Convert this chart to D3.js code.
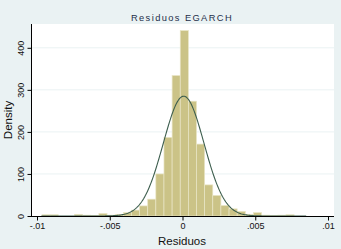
<!DOCTYPE html>
<html><head><meta charset="utf-8">
<script src="https://cdn.jsdelivr.net/npm/d3@7"></script>
<style>
html,body{margin:0;padding:0;background:#eaf2f3;}
svg{display:block;font-family:"Liberation Sans",Arial,sans-serif;}
</style></head>
<body>
<div id="chart"></div>
<script>
// Histogram of EGARCH residuals (density scale)
const binStart = -0.009658;
const binWidth = 0.000559;
const densities = [3,3,0,0,4,2,1,6,2,4,8,14,24,40,100,187,334,441,273,171,74,49,25,17,11,4,8,2,1,2,3,0];
// Fitted normal curve parameters
const normalMean = 0.00008;
const normalSd = 0.0014;
const curveRange = [-0.0097, 0.0085];
const xTicks = [-0.01, -0.005, 0, 0.005, 0.01];
const xTickLabels = ["-.01", "-.005", "0", ".005", ".01"];
const yTicks = [0, 100, 200, 300, 400];
const yTickLabels = ["0", "100", "200", "300", "400"];
const titleText = "Residuos EGARCH";
const xTitle = "Residuos";
const yTitle = "Density";

const W = 341, H = 249;
const svg = d3.select("#chart").append("svg").attr("width", W).attr("height", H);
svg.append("rect").attr("width", W).attr("height", H).attr("fill", "#eaf2f3");

const plot = {left: 32, right: 334, top: 24, bottom: 216};
svg.append("rect").attr("x", plot.left).attr("y", plot.top)
  .attr("width", plot.right - plot.left).attr("height", plot.bottom - plot.top)
  .attr("fill", "#ffffff");

const x = d3.scaleLinear().domain([-0.01, 0.01]).range([37, 328]);
const y = d3.scaleLinear().domain([0, 400]).range([216, 47.8]);

// grid
svg.append("g").selectAll("line").data(yTicks.filter(d => d > 0)).join("line")
  .attr("x1", plot.left).attr("x2", plot.right)
  .attr("y1", d => y(d)).attr("y2", d => y(d))
  .attr("stroke", "#eaf2f3").attr("stroke-width", 1);

// bars
const bins = densities.map((d, i) => ({x0: binStart + i * binWidth, x1: binStart + (i + 1) * binWidth, v: d}));
svg.append("g").selectAll("rect").data(bins.filter(b => b.v > 0)).join("rect")
  .attr("x", b => x(b.x0)).attr("width", b => x(b.x1) - x(b.x0))
  .attr("y", b => y(b.v)).attr("height", b => y(0) - y(b.v))
  .attr("fill", "#cbc387").attr("stroke", "#e9e5c6").attr("stroke-width", 0.7);

// normal curve
const pdf = v => Math.exp(-0.5 * Math.pow((v - normalMean) / normalSd, 2)) / (normalSd * Math.sqrt(2 * Math.PI));
const pts = d3.range(0, 301).map(i => curveRange[0] + (curveRange[1] - curveRange[0]) * i / 300);
svg.append("path").datum(pts)
  .attr("d", d3.line().x(v => x(v)).y(v => y(pdf(v))))
  .attr("fill", "none").attr("stroke", "#3d5e4e").attr("stroke-width", 1.1);

// axes
const xAxis = d3.axisBottom(x).tickValues(xTicks).tickFormat((d, i) => xTickLabels[i]).tickSize(4).tickPadding(2);
const gx = svg.append("g").attr("transform", `translate(0,${plot.bottom + 0.5})`).call(xAxis);
gx.select(".domain").attr("d", `M${plot.left},0H${plot.right}`).attr("stroke", "#000");
gx.selectAll(".tick line").attr("stroke", "#000");
gx.selectAll(".tick text").attr("font-size", "9px").attr("fill", "#111").attr("font-family", "Liberation Sans, Arial, sans-serif");

const yAxis = d3.axisLeft(y).tickValues(yTicks).tickFormat((d, i) => yTickLabels[i]).tickSize(4).tickPadding(3);
const gy = svg.append("g").attr("transform", `translate(${plot.left - 0.5},0)`).call(yAxis);
gy.select(".domain").attr("d", `M0,${plot.top}V${plot.bottom + 1}`).attr("stroke", "#000");
gy.selectAll(".tick line").attr("stroke", "#000");
gy.selectAll(".tick text")
  .attr("font-size", "9px").attr("fill", "#111").attr("font-family", "Liberation Sans, Arial, sans-serif")
  .attr("text-anchor", "middle").attr("dy", null).attr("x", null)
  .attr("transform", "translate(-10,0) rotate(-90)").attr("dominant-baseline", "middle");

// titles
svg.append("text").attr("x", 182).attr("y", 21).attr("text-anchor", "middle")
  .attr("font-size", "9.3px").attr("letter-spacing", "1.4px").attr("fill", "#1e2f4a").text(titleText);
svg.append("text").attr("x", 182).attr("y", 245).attr("text-anchor", "middle")
  .attr("font-size", "11.5px").attr("fill", "#111").text(xTitle);
svg.append("text").attr("transform", "translate(12,120) rotate(-90)").attr("text-anchor", "middle")
  .attr("font-size", "11.5px").attr("fill", "#111").text(yTitle);
</script>
</body></html>
